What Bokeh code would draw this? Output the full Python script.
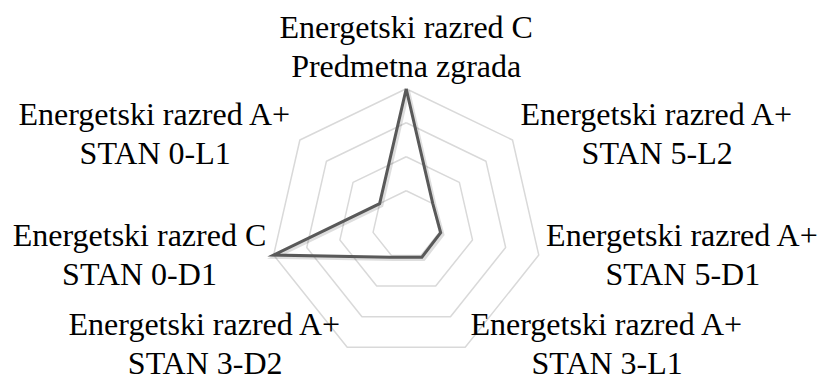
import numpy as np
from bokeh.plotting import figure
from bokeh.models import ColumnDataSource, Range1d
from bokeh.embed import file_html
from bokeh.resources import INLINE
from bokeh.core.properties import value

# ---- data ----
classes = ["Energetski razred C", "Energetski razred A+", "Energetski razred A+",
           "Energetski razred A+", "Energetski razred A+", "Energetski razred C",
           "Energetski razred A+"]
units = ["Predmetna zgrada", "STAN 5-L2", "STAN 5-D1", "STAN 3-L1",
         "STAN 3-D2", "STAN 0-D1", "STAN 0-L1"]
values = [4.0, 1.0, 1.04, 1.06, 1.06, 4.0, 1.0]
grid_levels = [1, 2, 3, 4]

# ---- layout ----
W, H = 821, 383
S = 34.0                      # pixels per value unit
cx_px, cy_px = 405.7, 224.3
x_start = -cx_px / S
y_end = cy_px / S

p = figure(width=W, height=H,
           x_range=Range1d(x_start, x_start + W / S),
           y_range=Range1d(y_end - H / S, y_end),
           output_backend="svg", toolbar_location=None, min_border=0,
           x_axis_location=None, y_axis_location=None)
p.grid.visible = False
p.outline_line_color = None
p.background_fill_color = "white"
p.border_fill_color = "white"

n = len(units)
theta = np.pi / 2 - 2 * np.pi * np.arange(n) / n
dx, dy = np.cos(theta), np.sin(theta)

# grid rings
for lv in grid_levels:
    xs = list(lv * dx) + [lv * dx[0]]
    ys = list(lv * dy) + [lv * dy[0]]
    p.line(xs, ys, line_color="#d9d9d9", line_width=1.5)

# data line (with soft shadow)
v = np.array(values)
xs = list(v * dx) + [v[0] * dx[0]]
ys = list(v * dy) + [v[0] * dy[0]]
off = 1.8 / S
p.line([x + off for x in xs], [y - off for y in ys], line_color="black",
       line_alpha=0.13, line_width=4, line_join="miter")
p.line(xs, ys, line_color="#595959", line_width=3, line_join="miter")

# category labels
R = grid_levels[-1]
groups = {"top": dict(x=[], y=[], text=[]), "right": dict(x=[], y=[], text=[]),
          "left": dict(x=[], y=[], text=[])}
for i in range(n):
    vx, vy = R * dx[i], R * dy[i]
    txt = classes[i] + "\n" + units[i]
    down = max(-dy[i], 0.0)
    gap = (8 - 3 * down) / S
    lift = 2 + (8 if down > 0.5 else 0)
    if abs(dx[i]) < 1e-6:
        g, lx, ly = "top", vx, vy + 5 / S
    elif dx[i] > 0:
        g, lx, ly = "right", vx + gap, vy + (7 * dy[i] + lift) / S
    else:
        g, lx, ly = "left", vx - gap, vy + (7 * dy[i] + lift) / S
    groups[g]["x"].append(lx)
    groups[g]["y"].append(ly)
    groups[g]["text"].append(txt)

anchors = {"top": "bottom_center", "right": "center_left", "left": "center_right"}
for g, d in groups.items():
    p.text(x="x", y="y", text="text", source=ColumnDataSource(d),
           anchor=anchors[g], text_align="center",
           text_font=value("Liberation Serif"), text_font_size="32px",
           text_line_height=1.08, text_color="black")

open("out.html", "w").write(file_html(p, INLINE))
